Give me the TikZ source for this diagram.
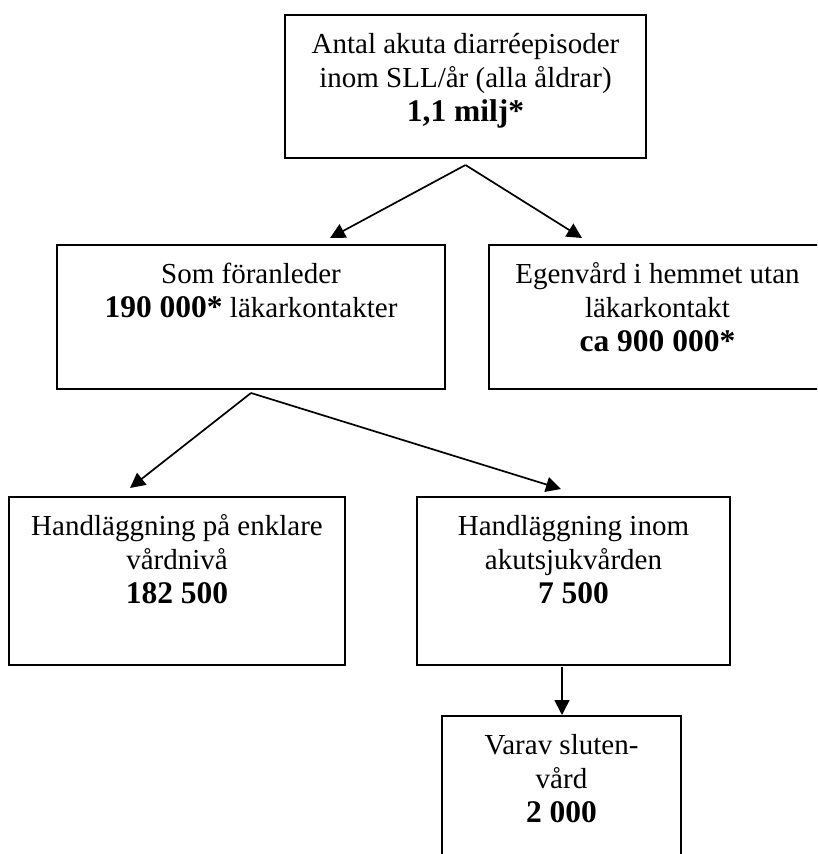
\documentclass[tikz,border=0pt]{standalone}
\usepackage{fontspec}
\setmainfont{Liberation Serif}
\usetikzlibrary{arrows.meta}
\newcommand{\bxt}[3]{\begin{minipage}[c][#2][t]{#1}\centering\lineskiplimit=-100pt\fontsize{29pt}{34pt}\selectfont\rule{0pt}{38pt}#3\end{minipage}}
\newcommand{\bnum}[1]{{\fontsize{31.5pt}{34pt}\selectfont\bfseries #1}}
\tikzset{
  bx/.style={draw, line width=2.3pt, inner sep=0pt, outer sep=0pt, rectangle},
  arr/.style={line width=1.7pt, -{Triangle[length=15pt,width=15pt]}}
}
\begin{document}
\begin{tikzpicture}[x=1pt,y=-1pt]
\useasboundingbox (0,0) rectangle (817,854);
\clip (0,0) rectangle (817,854);
\node[bx] (b1) at (465.5,86.5) {\bxt{361pt}{143pt}{Antal akuta diarréepisoder\\inom SLL/år (alla åldrar)\\\bnum{1,1 milj*}}};
\node[bx] (b2) at (251,317) {\bxt{388pt}{144pt}{Som föranleder\\\bnum{190 000*} läkarkontakter}};
\node[bx] (b3) at (657.5,317) {\bxt{337pt}{144pt}{Egenvård i hemmet utan\\läkarkontakt\\\bnum{ca 900 000*}}};
\node[bx] (b4) at (177,581) {\bxt{336pt}{168pt}{Handläggning på enklare\\vårdnivå\\\bnum{182 500}}};
\node[bx] (b5) at (573.5,581) {\bxt{313pt}{168pt}{Handläggning inom\\akutsjukvården\\\bnum{7 500}}};
\node[bx] (b6) at (561.5,800) {\bxt{239pt}{168pt}{Varav sluten-\\vård\\\bnum{2 000}}};
\coordinate (f1) at ([yshift=-7pt]b1.south);
\coordinate (t12) at (330,238);
\coordinate (t13) at (582,238);
\coordinate (f2) at ([yshift=-4pt]b2.south);
\coordinate (t24) at (130,488);
\coordinate (t25) at (561,489);
\coordinate (s56) at (562,667);
\coordinate (t56) at (562,715);
\draw[arr] (f1) -- (t12);
\draw[arr] (f1) -- (t13);
\draw[arr] (f2) -- (t24);
\draw[arr] (f2) -- (t25);
\draw[arr] (s56) -- (t56);
\end{tikzpicture}
\end{document}
